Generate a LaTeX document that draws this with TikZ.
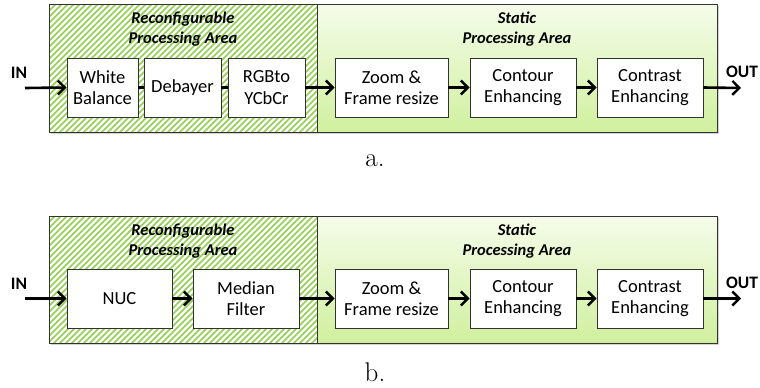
\documentclass[tikz,border=0pt]{standalone}
\usepackage{fontspec}
\newfontfamily\carl{Carlito}
\usetikzlibrary{arrows.meta,shadows}
\definecolor{hatchgreen}{RGB}{146,208,80}
\definecolor{boxedge}{RGB}{50,50,50}
\definecolor{stattop}{RGB}{245,252,234}
\definecolor{statbot}{RGB}{208,240,158}
\tikzset{
  blk/.style={draw=boxedge, line width=0.9pt, fill=white, minimum height=59pt,
    inner sep=1pt, align=center, font=\carl\fontsize{18.5}{21.5}\selectfont,
    drop shadow={shadow xshift=1.2pt, shadow yshift=-1.2pt, opacity=0.35}},
  ttl/.style={align=center, font=\carl\bfseries\itshape\fontsize{16.5}{20}\selectfont},
  io/.style={font=\carl\bfseries\fontsize{17.5}{20}\selectfont},
  arr/.style={line width=2.6pt, -{Straight Barb[length=7pt,width=14pt,line width=2.4pt]}},
  lnk/.style={line width=2.6pt},
  hatch/.style={hatchgreen, line width=1.7pt},
  area/.style={draw=boxedge, line width=0.9pt},
  figcap/.style={font=\fontsize{27}{30}\selectfont, anchor=base}
}
\begin{document}
\begin{tikzpicture}[x=1pt,y=-1pt]
\useasboundingbox (0,0) rectangle (760,388);
% ---------- diagram a ----------
\fill[white, drop shadow={shadow xshift=1.5pt, shadow yshift=-1.5pt, opacity=0.35}] (49,4) rectangle (717,132);
\begin{scope}
  \clip (49,4) rectangle (317,132);
  \foreach \i in {-140,-134,...,330} \draw[hatch] (\i,140) -- ++(145,-145);
\end{scope}
\shade[top color=stattop, bottom color=statbot] (317,4) rectangle (717,132);
\draw[area] (49,4) rectangle (317,132);
\draw[area] (317,4) rectangle (717,132);
\node[ttl] (ra) at (183,29) {Reconfigurable\\Processing Area};
\node[ttl] (sa) at (517,29) {Static\\Processing Area};
\node[blk, minimum width=71pt] (wb) at (102.5,87.5) {White\\Balance};
\node[blk, minimum width=77pt] (db) at (182.5,87.5) {Debayer};
\node[blk, minimum width=77pt] (rg) at (266.5,87.5) {RGBto\\YCbCr};
\node[blk, minimum width=113pt] (zm) at (391.5,87.5) {Zoom \&\\Frame resize};
\node[blk, minimum width=106pt] (ce) at (523,87.5) {Contour\\Enhancing};
\node[blk, minimum width=106pt] (ct) at (650,87.5) {Contrast\\Enhancing};
\node[io] (ina) at (19,73) {IN};
\node[io] (outa) at (742,72) {OUT};
\coordinate (ina0) at (25,88);
\coordinate (outa0) at (741,88);
\draw[arr] (ina0) -- (wb.west);
\draw[lnk] (wb) -- (db);
\draw[lnk] (db) -- (rg);
\draw[arr] (rg) -- (zm);
\draw[arr] (zm) -- (ce);
\draw[arr] (ce) -- (ct);
\draw[arr] (ct.east) -- (outa0);
\node[figcap] (capa) at (375,166) {a.};
% ---------- diagram b ----------
\fill[white, drop shadow={shadow xshift=1.5pt, shadow yshift=-1.5pt, opacity=0.35}] (49,216) rectangle (717,343);
\begin{scope}
  \clip (49,216) rectangle (317,343);
  \foreach \i in {-140,-134,...,330} \draw[hatch] (\i,351) -- ++(145,-145);
\end{scope}
\shade[top color=stattop, bottom color=statbot] (317,216) rectangle (717,343);
\draw[area] (49,216) rectangle (317,343);
\draw[area] (317,216) rectangle (717,343);
\node[ttl] (rb) at (183,241) {Reconfigurable\\Processing Area};
\node[ttl] (sb) at (517,241) {Static\\Processing Area};
\node[blk, minimum width=105pt] (nuc) at (119.5,298.5) {NUC};
\node[blk, minimum width=106pt] (mf) at (246,298.5) {Median\\Filter};
\node[blk, minimum width=113pt] (zm2) at (391.5,298.5) {Zoom \&\\Frame resize};
\node[blk, minimum width=106pt] (ce2) at (523,298.5) {Contour\\Enhancing};
\node[blk, minimum width=106pt] (ct2) at (650,298.5) {Contrast\\Enhancing};
\node[io] (inb) at (19,284) {IN};
\node[io] (outb) at (742,283) {OUT};
\coordinate (inb0) at (25,298.5);
\coordinate (outb0) at (741,298.5);
\draw[arr] (inb0) -- (nuc.west);
\draw[arr] (nuc) -- (mf);
\draw[arr] (mf) -- (zm2);
\draw[arr] (zm2) -- (ce2);
\draw[arr] (ce2) -- (ct2);
\draw[arr] (ct2.east) -- (outb0);
\node[figcap] (capb) at (375,381) {b.};
\end{tikzpicture}
\end{document}
